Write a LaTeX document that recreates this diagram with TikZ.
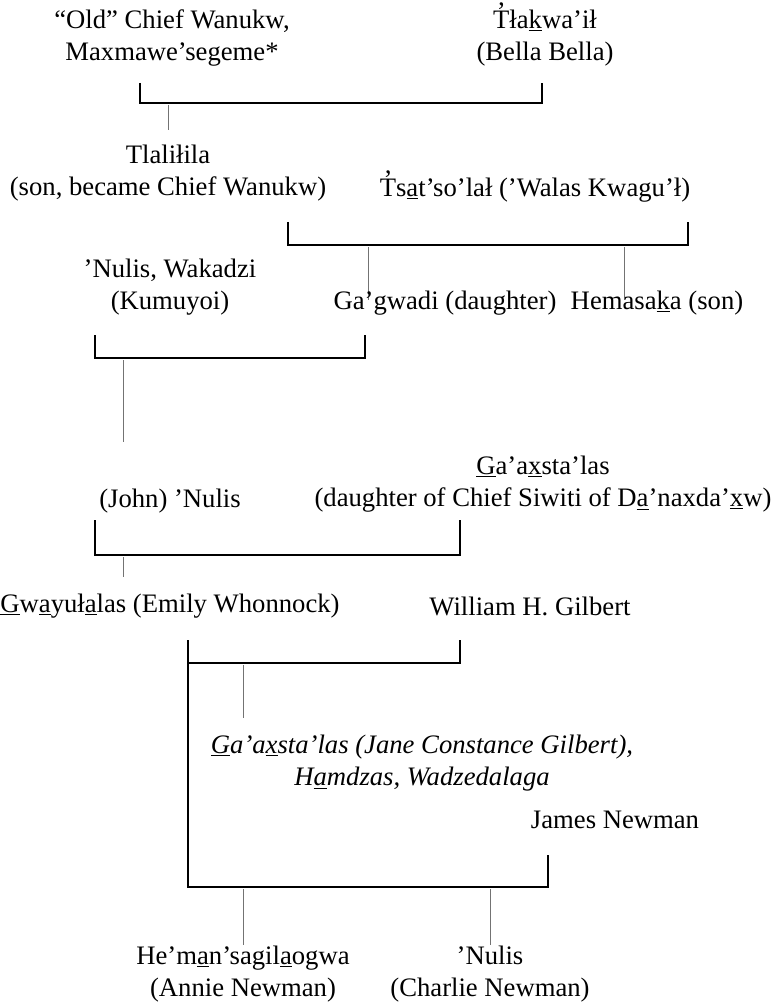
\documentclass[tikz,border=0pt]{standalone}
\usepackage{fontspec}
\setmainfont{Liberation Serif}
\newcommand\ulx[1]{\underline{#1}}
\newcommand\Tglot{\ooalign{T\cr\hidewidth\raisebox{0.3em}{’}\hidewidth\cr}}
\begin{document}
\begin{tikzpicture}[x=0.75pt,y=-0.75pt,
  every node/.style={font=\fontsize{20}{24.5}\selectfont, align=center, inner sep=0pt},
  marry/.style={line width=2.2pt},
  kid/.style={line width=0.75pt, black!55}]
\useasboundingbox (0,0) rectangle (773,1005);
% first generation
\node (oldchief) at (172,38) {“Old” Chief Wanukw,\\ Maxmawe’segeme*};
\node (tlakwail) at (545,38) {\Tglot ła\ulx{k}wa’ił\\ (Bella Bella)};
\coordinate (m1l) at (140,83);
\coordinate (m1r) at (542,83);
\draw [marry] (m1l) -- ++(0,20) -| (m1r);
\coordinate (k1a) at (168,105);
\coordinate (k1b) at (168,130);
\draw [kid] (k1a) -- (k1b);
% second generation
\node (tlalilila) at (168,173) {Tlaliłila\\ (son, became Chief Wanukw)};
\node (tsatsolal) at (535,190) {\Tglot s\ulx{a}t’so’lał (’Walas Kwagu’ł)};
\coordinate (m2l) at (288,222);
\coordinate (m2r) at (688,222);
\draw [marry] (m2l) -- ++(0,23) -| (m2r);
\coordinate (k2a) at (368,247);
\coordinate (k2b) at (368,300);
\coordinate (k3a) at (624,247);
\coordinate (k3b) at (624,300);
\draw [kid] (k2a) -- (k2b);
\draw [kid] (k3a) -- (k3b);
% third generation
\node (nulis1) at (170,287) {’Nulis, Wakadzi\\ (Kumuyoi)};
\node (gagwadi) at (445,303) {Ga’gwadi (daughter)};
\node (hemasaka) at (657,303) {Hemasa\ulx{k}a (son)};
\coordinate (m3l) at (95,335);
\coordinate (m3r) at (365,335);
\draw [marry] (m3l) -- ++(0,23) -| (m3r);
\coordinate (k4a) at (123,360);
\coordinate (k4b) at (123,442);
\draw [kid] (k4a) -- (k4b);
% fourth generation
\node (john) at (170,501) {(John) ’Nulis};
\node (gaax1) at (543,484) {\ulx{G}a’a\ulx{x}sta’las\\ (daughter of Chief Siwiti of D\ulx{a}’naxda’\ulx{x}w)};
\coordinate (m4l) at (95,520);
\coordinate (m4r) at (460,520);
\draw [marry] (m4l) -- ++(0,35) -| (m4r);
\coordinate (k5a) at (123,557);
\coordinate (k5b) at (123,577);
\draw [kid] (k5a) -- (k5b);
% fifth generation
\node (emily) at (170,606) {\ulx{G}w\ulx{a}yuł\ulx{a}las (Emily Whonnock)};
\node (william) at (530,606) {William H. Gilbert};
\coordinate (m5l) at (188,640);
\coordinate (m5r) at (460,640);
\draw [marry] (m5l) -- ++(0,23) -| (m5r);
\coordinate (k6a) at (243,665);
\coordinate (k6b) at (243,718);
\draw [kid] (k6a) -- (k6b);
\node (jane) at (422,763) {\itshape \ulx{G}a’a\ulx{x}sta’las (Jane Constance Gilbert),\\ \itshape H\ulx{a}mdzas, Wadzedalaga};
\node (james) at (615,820) {James Newman};
\coordinate (m6l) at (188,663);
\coordinate (m6r) at (548,855);
\draw [marry] (m6l) -- (188,887) -| (m6r);
\coordinate (k7a) at (243,889);
\coordinate (k7b) at (243,945);
\coordinate (k8a) at (490,889);
\coordinate (k8b) at (490,945);
\draw [kid] (k7a) -- (k7b);
\draw [kid] (k8a) -- (k8b);
% sixth generation
\node (annie) at (243,974) {He’m\ulx{a}n’sagil\ulx{a}ogwa\\ (Annie Newman)};
\node (charlie) at (490,974) {’Nulis\\ (Charlie Newman)};
\end{tikzpicture}
\end{document}
